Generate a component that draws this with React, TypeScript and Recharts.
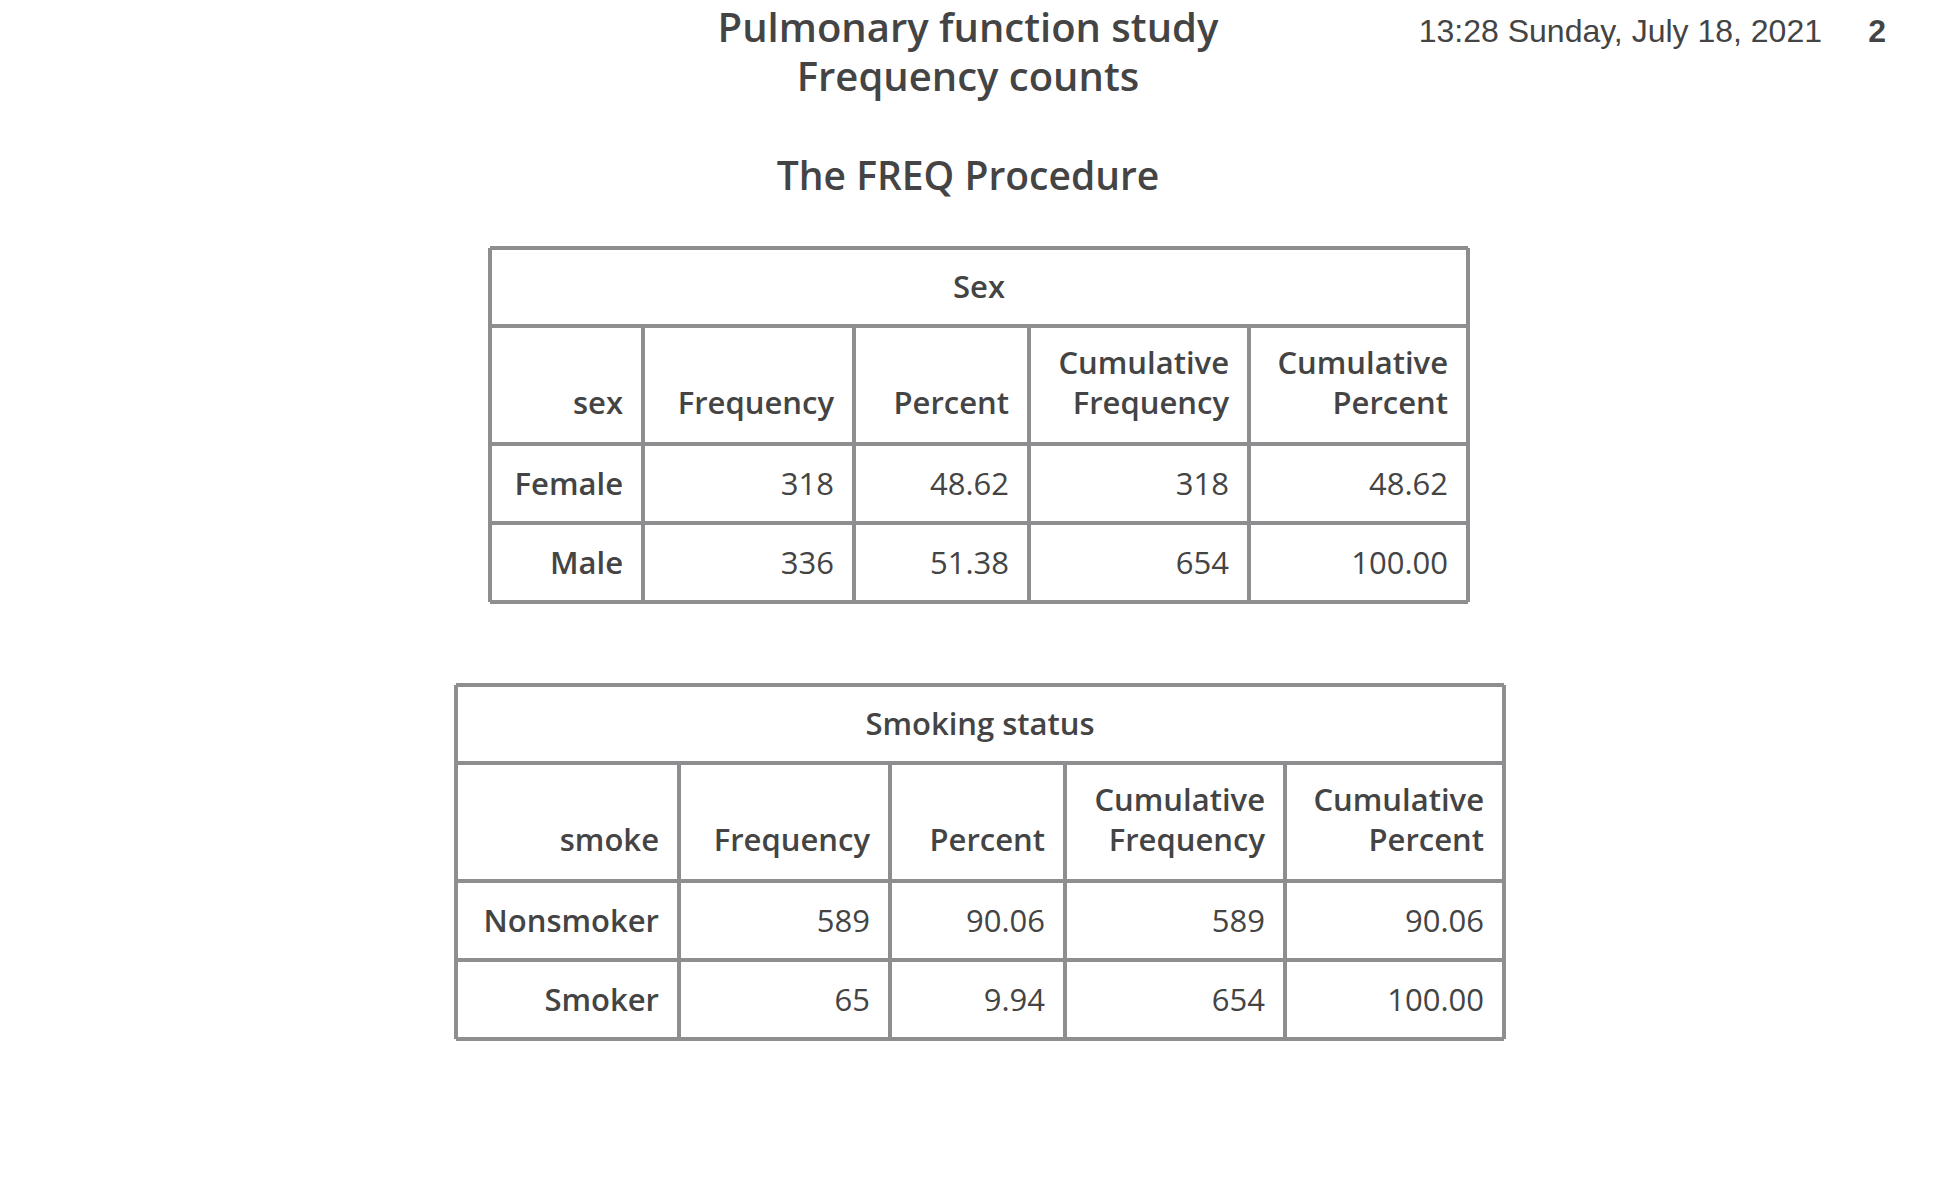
import React from "react";
import { Surface, Rectangle, Text } from "recharts";

const titles = ["Pulmonary function study", "Frequency counts"];
const procTitle = "The FREQ Procedure";
const dateStamp = "13:28 Sunday, July 18, 2021";
const pageNo = "2";

const headers = ["Frequency", "Percent", "Cumulative|Frequency", "Cumulative|Percent"];

const sexLevels = ["Female", "Male"];
const sexFreq = ["318", "336"];
const sexPct = ["48.62", "51.38"];
const sexCumFreq = ["318", "654"];
const sexCumPct = ["48.62", "100.00"];

const smokeLevels = ["Nonsmoker", "Smoker"];
const smokeFreq = ["589", "65"];
const smokePct = ["90.06", "9.94"];
const smokeCumFreq = ["589", "654"];
const smokeCumPct = ["90.06", "100.00"];

const FONT = "'Open Sans', 'Noto Sans', sans-serif";
const INK = "#444444";
const LINE = "#8e8e90";

type TableProps = {
  x: number;
  y: number;
  cols: number[];
  caption: string;
  varName: string;
  levels: string[];
  columns: string[][];
};

function FreqTable({ x, y, cols, caption, varName, levels, columns }: TableProps) {
  const rowH = [78, 118, 79, 79];
  const total = cols.reduce((a, b) => a + b, 0);
  const xs = cols.reduce<number[]>((acc, w) => [...acc, acc[acc.length - 1] + w], [x]);
  const ys = rowH.reduce<number[]>((acc, h) => [...acc, acc[acc.length - 1] + h], [y]);
  const pad = 20;
  const fs = 31;
  const cells: React.ReactNode[] = [];
  const head = [varName, ...headers];
  head.forEach((h, c) => {
    const parts = h.split("|");
    parts.forEach((p, i) => {
      cells.push(
        <Text key={`h${c}${i}`} x={xs[c + 1] - pad} y={ys[2] - 30 - (parts.length - 1 - i) * 40}
          textAnchor="end" fontFamily={FONT} fontSize={fs} fontWeight={600} fill={INK}>{p}</Text>
      );
    });
  });
  levels.forEach((lv, r) => {
    const yy = ys[r + 2] + rowH[r + 2] / 2 + 11;
    cells.push(
      <Text key={`l${r}`} x={xs[1] - pad} y={yy} textAnchor="end" fontFamily={FONT}
        fontSize={fs} fontWeight={600} fill={INK}>{lv}</Text>
    );
    columns.forEach((col, c) => {
      cells.push(
        <Text key={`v${r}${c}`} x={xs[c + 2] - pad} y={yy} textAnchor="end" fontFamily={FONT}
          fontSize={fs} fill={INK}>{col[r]}</Text>
      );
    });
  });
  const lines: React.ReactNode[] = [];
  ys.forEach((yy, i) =>
    lines.push(<line key={`hy${i}`} x1={x} x2={x + total} y1={yy} y2={yy} stroke={LINE} strokeWidth={4} />)
  );
  xs.forEach((xx, i) =>
    lines.push(
      <line key={`vx${i}`} x1={xx} x2={xx} y1={i === 0 || i === xs.length - 1 ? ys[0] : ys[1]}
        y2={ys[4]} stroke={LINE} strokeWidth={4} />
    )
  );
  return (
    <g>
      <Rectangle x={x} y={y} width={total} height={ys[4] - y} fill="#ffffff" />
      {lines}
      <Text x={x + total / 2} y={y + rowH[0] / 2 + 11} textAnchor="middle" fontFamily={FONT}
        fontSize={fs} fontWeight={600} fill={INK}>{caption}</Text>
      {cells}
    </g>
  );
}

export default function App() {
  return (
    <div style={{ position: "absolute", left: 0, top: 0, width: 1948, height: 1204, background: "#fff" }}>
      <Surface width={1948} height={1204}>
        <Text x={968} y={42} textAnchor="middle" fontFamily={FONT} fontSize={40} fontWeight={600} fill={INK}>{titles[0]}</Text>
        <Text x={968} y={91} textAnchor="middle" fontFamily={FONT} fontSize={40} fontWeight={600} fill={INK}>{titles[1]}</Text>
        <Text x={1822} y={42} textAnchor="end" fontFamily="'Liberation Sans', Arial, sans-serif" fontSize={32} fill={INK}>{dateStamp}</Text>
        <Text x={1886} y={42} textAnchor="end" fontFamily="'Liberation Sans', Arial, sans-serif" fontSize={32} fontWeight={700} fill={INK}>{pageNo}</Text>
        <Text x={968} y={190} textAnchor="middle" fontFamily={FONT} fontSize={39} fontWeight={600} fill={INK}>{procTitle}</Text>
        <FreqTable x={490} y={248} cols={[153, 211, 175, 220, 219]} caption="Sex" varName="sex"
          levels={sexLevels} columns={[sexFreq, sexPct, sexCumFreq, sexCumPct]} />
        <FreqTable x={456} y={685} cols={[223, 211, 175, 220, 219]} caption="Smoking status" varName="smoke"
          levels={smokeLevels} columns={[smokeFreq, smokePct, smokeCumFreq, smokeCumPct]} />
      </Surface>
    </div>
  );
}
